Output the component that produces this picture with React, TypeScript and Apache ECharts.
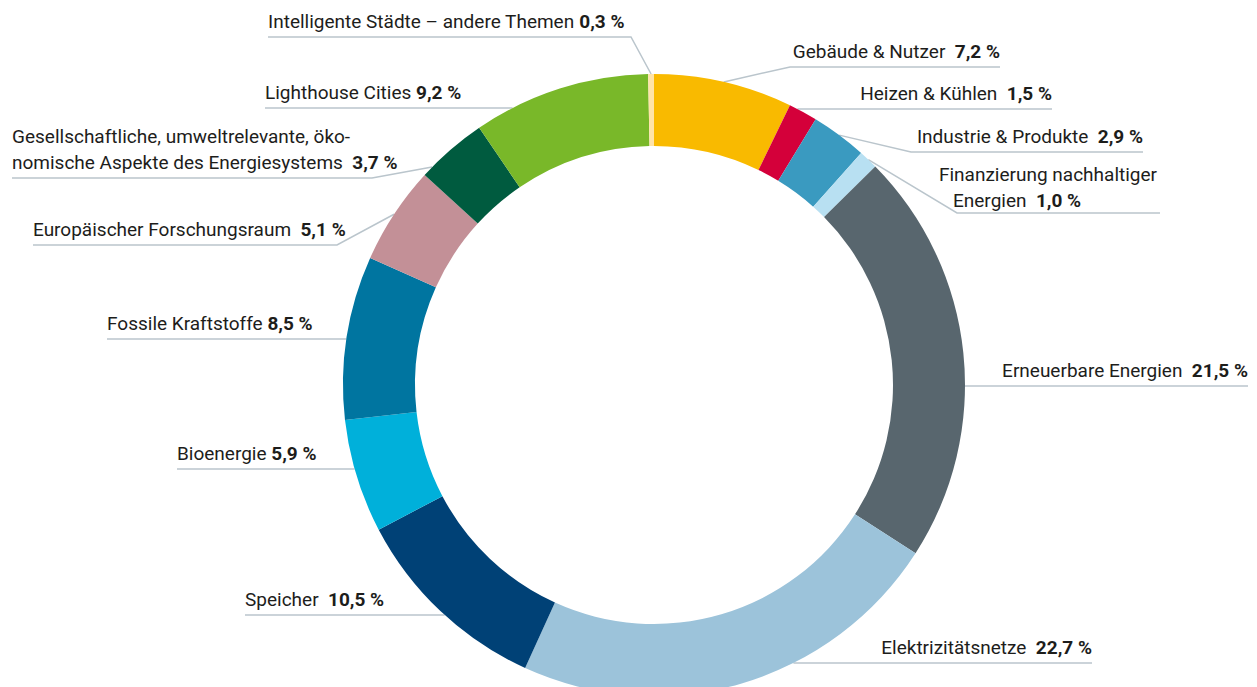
import React, { useEffect, useRef } from "react";
import * as echarts from "echarts";

// ---- data ----
const categories = [
  "Gebäude & Nutzer",
  "Heizen & Kühlen",
  "Industrie & Produkte",
  "Finanzierung nachhaltiger Energien",
  "Erneuerbare Energien",
  "Elektrizitätsnetze",
  "Speicher",
  "Bioenergie",
  "Fossile Kraftstoffe",
  "Europäischer Forschungsraum",
  "Gesellschaftliche, umweltrelevante, ökonomische Aspekte des Energiesystems",
  "Lighthouse Cities",
  "Intelligente Städte – andere Themen",
];
const values = [7.2, 1.5, 2.9, 1.0, 21.5, 22.7, 10.5, 5.9, 8.5, 5.1, 3.7, 9.2, 0.3];

// label text as printed (line breaks / spacing)
const labelTexts = [
  "{n|Gebäude & Nutzer  }",
  "{n|Heizen & Kühlen  }",
  "{n|Industrie & Produkte  }",
  "{n|Finanzierung nachhaltiger}\n{i|Energien  }",
  "{n|Erneuerbare Energien  }",
  "{n|Elektrizitätsnetze  }",
  "{n|Speicher  }",
  "{n|Bioenergie }",
  "{n|Fossile Kraftstoffe }",
  "{n|Europäischer Forschungsraum  }",
  "{n|Gesellschaftliche, umweltrelevante, öko-}\n{n|nomische Aspekte des Energiesystems  }",
  "{n|Lighthouse Cities }",
  "{n|Intelligente Städte – andere Themen }",
];

// ---- styles ----
const colors = [
  "#F9BA00",
  "#D4003A",
  "#3A9AC0",
  "#B8E0F2",
  "#58666E",
  "#9CC3DA",
  "#004176",
  "#00B0DA",
  "#0075A0",
  "#C39097",
  "#005B3F",
  "#79B829",
  "#FFE3A8",
];

const CX = 654;
const CY = 385;
const R_IN = 239;
const R_OUT = 311;

// label layout: side, line end x, y of leader line, optional knee x, anchor fraction in slice, text x
type L = {
  side: "left" | "right";
  x: number;
  lineY: number;
  knee?: number;
  t?: number;
  dy?: number;
  tx?: number;
  talign?: "left" | "right";
};
const layouts: L[] = [
  { side: "right", x: 1000, lineY: 67, knee: 790 },
  { side: "right", x: 1052, lineY: 109 },
  { side: "right", x: 1143, lineY: 152, knee: 911 },
  { side: "right", x: 1160, lineY: 213, knee: 957, dy: 0, tx: 939, talign: "left" },
  { side: "right", x: 1248, lineY: 386 },
  { side: "right", x: 1092, lineY: 663 },
  { side: "left", x: 245, lineY: 615 },
  { side: "left", x: 177, lineY: 469 },
  { side: "left", x: 107, lineY: 339 },
  { side: "left", x: 33, lineY: 245, knee: 337 },
  { side: "left", x: 12, lineY: 178, knee: 372, t: 0.15 },
  { side: "left", x: 265, lineY: 108 },
  { side: "left", x: 268, lineY: 37, knee: 631 },
];

const total = values.reduce((a, b) => a + b, 0);
const cum: number[] = [];
values.reduce((acc, v, i) => {
  cum[i] = acc;
  return acc + v;
}, 0);

const fmt = (v: number) => v.toFixed(1).replace(".", ",") + " %";

export default function App() {
  const ref = useRef<HTMLDivElement>(null);
  useEffect(() => {
    if (!ref.current) return;
    const chart = echarts.init(ref.current, undefined, { renderer: "svg" });
    const font = "Roboto, 'Open Sans', sans-serif";
    chart.setOption({
      animation: false,
      backgroundColor: "#ffffff",
      series: [
        {
          type: "pie",
          center: [CX, CY],
          radius: [R_IN, R_OUT],
          startAngle: 90,
          clockwise: true,
          avoidLabelOverlap: false,
          itemStyle: { borderWidth: 0 },
          emphasis: { disabled: true },
          data: values.map((v, i) => ({
            name: categories[i],
            value: v,
            itemStyle: { color: colors[i] },
          })),
          label: {
            show: true,
            position: "outside",
            formatter: (p: any) => labelTexts[p.dataIndex] + "{v|" + fmt(p.value) + "}",
            color: "#1d1d1b",
            fontFamily: font,
            fontSize: 19,
            lineHeight: 26,
            rich: {
              n: { fontFamily: font, fontSize: 19, lineHeight: 26, color: "#1d1d1b" },
              i: { fontFamily: font, fontSize: 19, lineHeight: 26, color: "#1d1d1b", padding: [0, 0, 0, 14] },
              v: { fontFamily: font, fontSize: 19, lineHeight: 26, color: "#1d1d1b", fontWeight: "bold" },
            },
          },
          labelLine: {
            show: true,
            smooth: false,
            lineStyle: { color: "#BAC5CC", width: 1.5 },
          },
          labelLayout: (params: any) => {
            const i = params.dataIndex;
            const Lo = layouts[i];
            const sign = Lo.side === "left" ? -1 : 1;
            let points: number[][];
            if (Lo.knee !== undefined) {
              const frac = (cum[i] + (Lo.t ?? 0.5) * values[i]) / total;
              const th = frac * Math.PI * 2;
              const ax = CX + R_OUT * Math.sin(th);
              const ay = CY - R_OUT * Math.cos(th);
              points = [
                [ax, ay],
                [Lo.knee, Lo.lineY],
                [Lo.x, Lo.lineY],
              ];
            } else {
              const dyy = Lo.lineY - CY;
              const rx = CX + sign * Math.sqrt(Math.max(0, R_OUT * R_OUT - dyy * dyy));
              points = [
                [rx, Lo.lineY],
                [(rx + Lo.x) / 2, Lo.lineY],
                [Lo.x, Lo.lineY],
              ];
            }
            return {
              x: Lo.tx ?? Lo.x,
              y: Lo.lineY - (Lo.dy ?? 3),
              align: Lo.talign ?? (Lo.side === "left" ? "left" : "right"),
              verticalAlign: "bottom",
              labelLinePoints: points,
            };
          },
        },
      ],
    });
    return () => chart.dispose();
  }, []);
  return (
    <div
      ref={ref}
      style={{ position: "fixed", left: 0, top: 0, width: 1257, height: 687 }}
    />
  );
}
